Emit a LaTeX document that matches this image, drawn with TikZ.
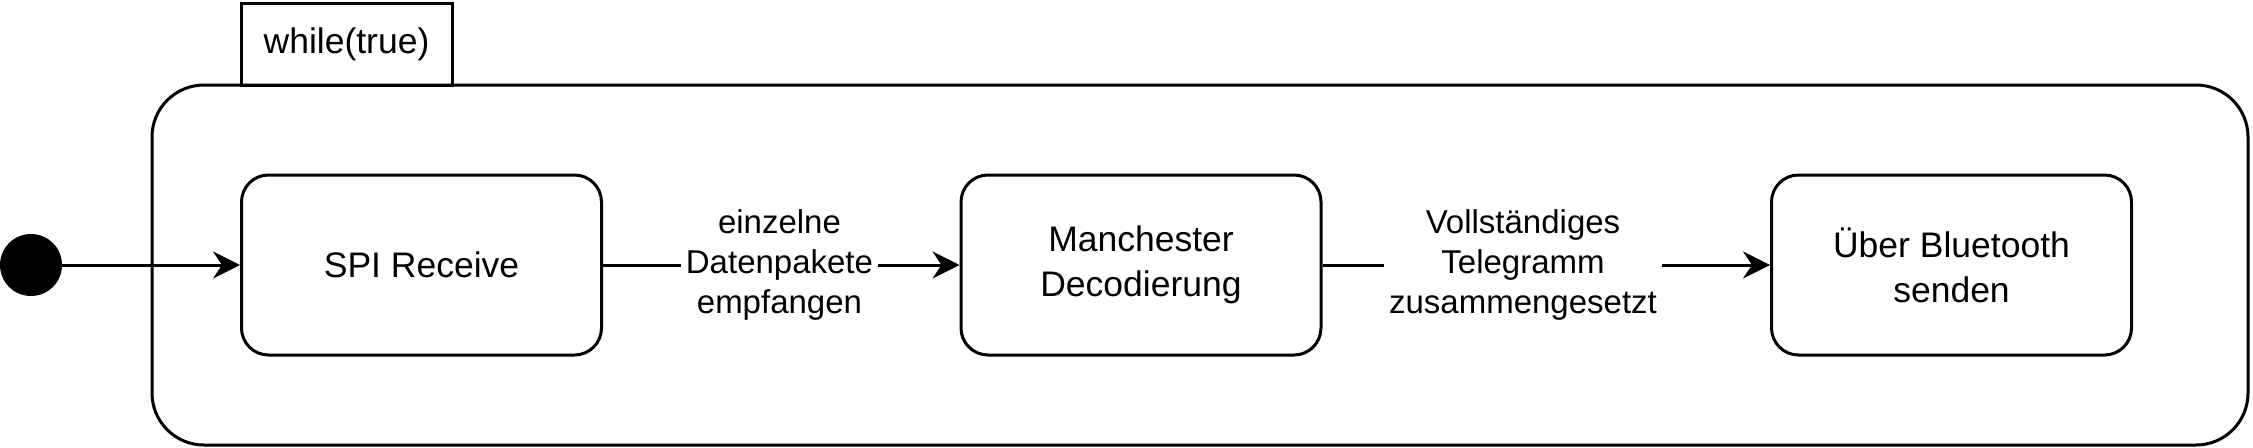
\documentclass[tikz,border=0pt]{standalone}
\usepackage{fontspec}
\setmainfont{Liberation Sans}
\usetikzlibrary{arrows.meta}
\tikzset{
  statebox/.style={draw, line width=3pt, rounded corners=27pt, minimum width=360pt, minimum height=180pt, align=center, inner sep=0pt, font=\fontsize{35.5}{45}\selectfont},
  container/.style={draw, line width=3pt, rounded corners=52pt, minimum width=2096pt, minimum height=360pt, inner sep=0pt},
  tabbox/.style={draw, line width=3pt, minimum width=211pt, minimum height=82pt, inner sep=0pt, font=\fontsize{35.5}{42.6}\selectfont},
  initial/.style={circle, fill=black, minimum size=62pt, inner sep=0pt},
  flow/.style={line width=3pt, -{Stealth[length=27pt, width=27pt, inset=9pt]}},
  lbl/.style={fill=white, align=center, inner xsep=5pt, inner ysep=2pt, font=\fontsize{33}{39.6}\selectfont}
}
\begin{document}
\begin{tikzpicture}[x=1pt, y=-1pt]
\useasboundingbox (0,0) rectangle (2253,447);
\node[tabbox] (tab) at (346.5,44) {while(true)};
\node[container] (loop) at (1200,265) {};
\node[initial] (start) at (31,265) {};
\node[statebox] (spi) at (421.5,265) {SPI Receive};
\node[statebox] (man) at (1141,265) {Manchester\\Decodierung};
\node[statebox] (bt) at (1951.5,265) {Über Bluetooth\\senden};
\draw[flow] (start) -- (spi);
\draw[flow] (spi) -- node[lbl, pos=0.495] (l1) {einzelne\\Datenpakete\\empfangen} (man);
\draw[flow] (man) -- node[lbl, pos=0.448] (l2) {Vollständiges\\Telegramm\\zusammengesetzt} (bt);
\end{tikzpicture}
\end{document}
